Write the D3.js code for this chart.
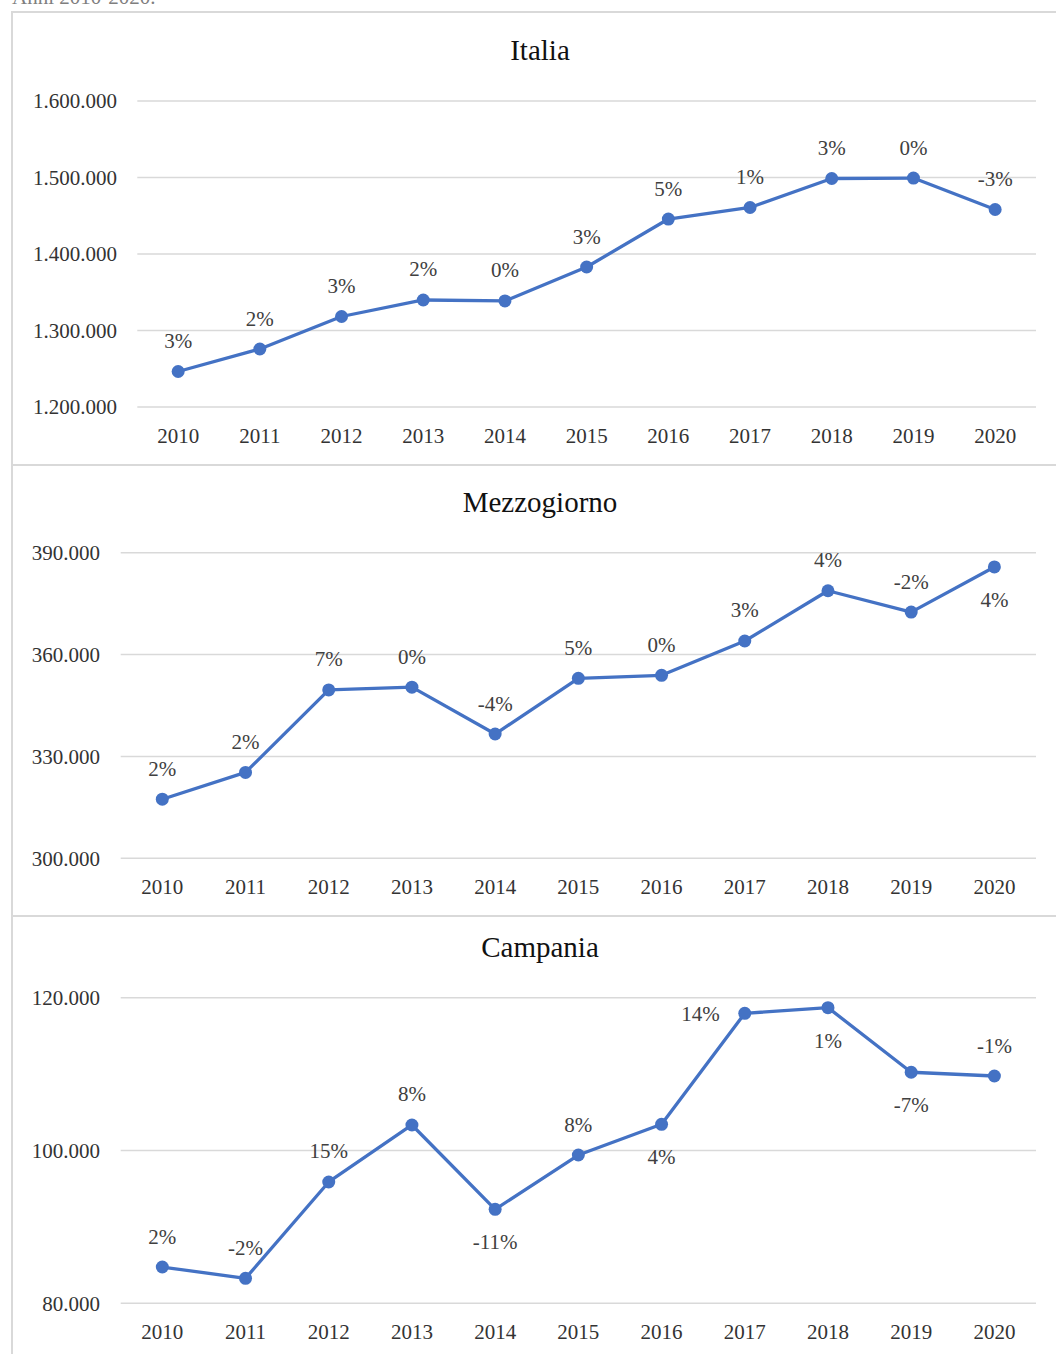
<!DOCTYPE html>
<html>
<head>
<meta charset="utf-8">
<script src="https://cdn.jsdelivr.net/npm/d3@7"></script>
<style>
  body { margin: 0; background: #fff; }
  text { font-family: "Liberation Serif", "DejaVu Serif", serif; }
</style>
</head>
<body>
<svg id="my-svg"></svg>
<script>
// data
const years = ["2010","2011","2012","2013","2014","2015","2016","2017","2018","2019","2020"];

const italiaValues = [1246400, 1275800, 1318300, 1339900, 1338600, 1383000, 1445700, 1460800, 1498700, 1499300, 1458200];
const italiaLabels = ["3%","2%","3%","2%","0%","3%","5%","1%","3%","0%","-3%"];
const italiaPos    = ["a","a","a","a","a","a","a","a","a","a","a"];
const italiaTicks  = [1200000, 1300000, 1400000, 1500000, 1600000];

const mezzValues = [317400, 325300, 349600, 350400, 336600, 353000, 353900, 364000, 378800, 372500, 385800];
const mezzLabels = ["2%","2%","7%","0%","-4%","5%","0%","3%","4%","-2%","4%"];
const mezzPos    = ["a","a","a","a","a","a","a","a","a","a","b"];
const mezzTicks  = [300000, 330000, 360000, 390000];

const campValues = [84750, 83270, 95880, 103340, 92300, 99410, 103430, 117960, 118700, 110240, 109750];
const campLabels = ["2%","-2%","15%","8%","-11%","8%","4%","14%","1%","-7%","-1%"];
const campPos    = ["a","a","a","a","b","a","b","l","b","b","a"];
const campTicks  = [80000, 100000, 120000];

const width = 1056, height = 1354;

const svg = d3.select("#my-svg")
    .attr("width", width)
    .attr("height", height);

const it = d3.formatLocale({decimal: ",", thousands: ".", grouping: [3], currency: ["", "€"]});
const fmt = it.format(",");

// caption, cut off at the top like in the scan
svg.append("text")
    .attr("x", 12)
    .attr("y", 4)
    .style("font-size", "21px")
    .style("fill", "#7f7f7f")
    .text("Anni 2010-2020.");

// panel frames
[12, 465, 916].forEach(t => {
  svg.append("path")
      .attr("d", `M${width},${t} H12 V${height}`)
      .attr("fill", "none")
      .attr("stroke", "#d9d9d9")
      .attr("stroke-width", 2);
});

function LineChart(title, values, labels, pos, ticks, left, top, bottom, labelRight) {
  const right = 1036;

  const x = d3.scalePoint()
      .domain(years)
      .range([left, right])
      .padding(0.5);

  const y = d3.scaleLinear()
      .domain([ticks[0], ticks[ticks.length - 1]])
      .range([bottom, top]);

  const g = svg.append("g");

  g.append("text")
      .attr("x", 540)
      .attr("y", top - 41)
      .attr("text-anchor", "middle")
      .style("font-size", "29px")
      .style("fill", "#111")
      .text(title);

  // grid
  g.selectAll("line.grid")
      .data(ticks)
      .join("line")
        .attr("x1", left)
        .attr("x2", right)
        .attr("y1", d => y(d))
        .attr("y2", d => y(d))
        .attr("stroke", "#d9d9d9")
        .attr("stroke-width", 1.5);

  g.selectAll("text.ytick")
      .data(ticks)
      .join("text")
        .attr("x", labelRight)
        .attr("y", d => y(d))
        .attr("dy", "0.35em")
        .attr("text-anchor", "end")
        .style("font-size", "21px")
        .style("fill", "#333")
        .text(d => fmt(d));

  g.selectAll("text.xtick")
      .data(years)
      .join("text")
        .attr("x", d => x(d))
        .attr("y", bottom + 35.5)
        .attr("text-anchor", "middle")
        .style("font-size", "21px")
        .style("fill", "#333")
        .text(d => d);

  const pts = years.map((yr, i) => ({yr: yr, v: values[i], lab: labels[i], p: pos[i]}));

  g.append("path")
      .datum(pts)
      .attr("fill", "none")
      .attr("stroke", "#4472C4")
      .attr("stroke-width", 3.3)
      .attr("stroke-linejoin", "round")
      .attr("d", d3.line().x(d => x(d.yr)).y(d => y(d.v)));

  g.selectAll("circle")
      .data(pts)
      .join("circle")
        .attr("cx", d => x(d.yr))
        .attr("cy", d => y(d.v))
        .attr("r", 6.5)
        .style("fill", "#4472C4");

  g.selectAll("text.lab")
      .data(pts)
      .join("text")
        .attr("x", d => d.p === "l" ? x(d.yr) - 25 : x(d.yr))
        .attr("y", d => d.p === "a" ? y(d.v) - 23.5 : d.p === "b" ? y(d.v) + 40 : y(d.v) + 7.5)
        .attr("text-anchor", d => d.p === "l" ? "end" : "middle")
        .style("font-size", "21px")
        .style("fill", "#404040")
        .text(d => d.lab);
}

LineChart("Italia", italiaValues, italiaLabels, italiaPos, italiaTicks, 137.3, 101, 407, 117);
LineChart("Mezzogiorno", mezzValues, mezzLabels, mezzPos, mezzTicks, 120.7, 552.7, 858.3, 100);
LineChart("Campania", campValues, campLabels, campPos, campTicks, 120.7, 997.7, 1303.3, 100);
</script>
</body>
</html>
